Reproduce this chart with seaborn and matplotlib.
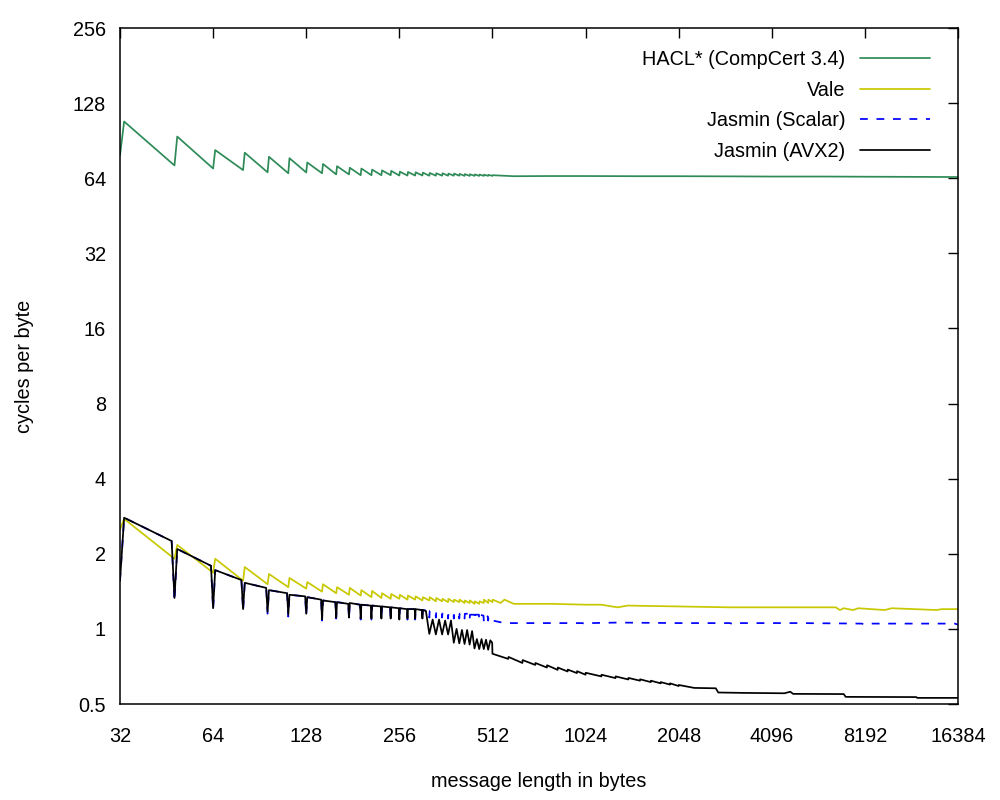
import seaborn as sns
import pandas as pd
import matplotlib.pyplot as plt
import matplotlib.ticker as mticker

# message lengths (bytes) and cycles per byte
hv_len = [32, 33, 48, 49, 64, 65, 80, 81, 96, 97, 112, 113, 128, 129, 144, 145,
          160, 161, 176, 177, 192, 193, 208, 209, 224, 225, 240, 241, 256, 257,
          272, 273, 288, 289, 304, 305, 320, 321, 336, 337, 352, 353, 368, 369,
          384, 385, 400, 401, 416, 417, 432, 433, 448, 449, 464, 465, 480, 481,
          496, 497, 512, 513]

hacl_len = hv_len + [600, 768, 1024, 1536, 2048, 3072, 4096, 6144, 8192, 12288, 16384]
hacl_cpb = [79, 108, 72, 94, 70, 83, 69, 81, 67.6, 78, 67, 77, 67.5, 74, 67, 73,
            66.3, 71.5, 66.3, 70.5, 65.8, 70, 65.8, 69.3, 65.8, 68.8, 65.8, 68.5, 65.6, 68,
            65.6, 67.8, 65.6, 67.6, 65.6, 67.4, 65.5, 67.2, 65.5, 67, 65.5, 67, 65.5, 66.8,
            65.5, 66.8, 65.5, 66.6, 65.4, 66.5, 65.4, 66.4, 65.4, 66.3, 65.4, 66.2, 65.4, 66.1,
            65.4, 66, 65.4, 65.8,
            65.2, 65.3, 65.3, 65.2, 65.2, 65.1, 65.0, 65.0, 64.9, 64.8, 64.7]

vale_len = hv_len + [544, 560, 600, 800, 1024, 1150, 1300, 1400, 2048, 3000, 4096,
                     6600, 6800, 7000, 7500, 7800, 9500, 10000, 14000, 14500, 16384]
vale_cpb = [2.5, 2.76, 1.91, 2.17, 1.68, 1.91, 1.56, 1.77, 1.51, 1.66, 1.47, 1.60,
            1.45, 1.54, 1.41, 1.51, 1.39, 1.47, 1.37, 1.46, 1.36, 1.43, 1.34, 1.42,
            1.33, 1.39, 1.32, 1.38, 1.32, 1.37, 1.31, 1.36, 1.31, 1.35, 1.30, 1.34,
            1.30, 1.34, 1.29, 1.33, 1.29, 1.32, 1.28, 1.32, 1.28, 1.31, 1.28, 1.31,
            1.27, 1.30, 1.27, 1.30, 1.26, 1.29, 1.26, 1.29, 1.27, 1.31, 1.27, 1.31,
            1.28, 1.31,
            1.27, 1.31, 1.26, 1.26, 1.25, 1.25, 1.22, 1.24, 1.23, 1.22, 1.22,
            1.22, 1.19, 1.21, 1.19, 1.21, 1.19, 1.21, 1.19, 1.2, 1.2]

jas_head_len = [32, 33, 47, 48, 49, 63, 64, 65, 79, 80, 81, 95, 96, 97, 111, 112, 113,
                127, 128, 129, 143, 144, 145, 159, 160, 161, 175, 176, 177, 191, 192, 193,
                207, 208, 209, 223, 224, 225, 239, 240, 241, 255, 256, 257, 271, 272, 273,
                287, 288, 289, 303, 304, 305]

scalar_len = jas_head_len + [319, 320, 321, 335, 336, 337, 351, 352, 353, 367, 368, 369,
                             383, 384, 385, 399, 400, 401, 415, 416, 417, 431, 432, 433,
                             447, 448, 449, 463, 464, 465, 479, 480, 481, 495, 496, 497,
                             511, 512, 513,
                             560, 700, 1000, 1024, 1060, 1300, 2048, 3000, 3100, 3200,
                             5000, 8000, 8200, 8500, 16000, 16384]
scalar_cpb = [1.56, 2.79, 2.25, 1.29, 2.09, 1.79, 1.19, 1.72, 1.57, 1.18, 1.53, 1.46, 1.15, 1.43,
              1.39, 1.12, 1.37, 1.35, 1.13, 1.34, 1.31, 1.08, 1.30, 1.28, 1.10, 1.28,
              1.26, 1.10, 1.27, 1.25, 1.09, 1.25, 1.24, 1.09, 1.24, 1.23, 1.09, 1.23,
              1.22, 1.09, 1.22, 1.21, 1.08, 1.21, 1.20, 1.09, 1.20, 1.20, 1.09, 1.20,
              1.19, 1.09, 1.19,
              1.18, 1.11, 1.18, 1.17, 1.11, 1.17, 1.17, 1.11, 1.17, 1.16, 1.10, 1.16,
              1.16, 1.10, 1.16, 1.15, 1.10, 1.15, 1.15, 1.10, 1.15, 1.15, 1.09, 1.14,
              1.14, 1.09, 1.14, 1.14, 1.09, 1.14, 1.13, 1.08, 1.14, 1.12, 1.08, 1.11,
              1.09, 1.07, 1.08,
              1.055, 1.055, 1.055, 1.045, 1.055, 1.06, 1.055, 1.055, 1.04, 1.055,
              1.055, 1.05, 1.04, 1.05, 1.05, 1.04]

avx2_len = jas_head_len + [312, 320, 328, 336, 344, 352, 360, 368, 376,
                           384, 392, 400, 408, 416, 424, 432, 440,
                           448, 456, 464, 472, 480, 488, 496, 504, 511, 512,
                           576, 577, 640, 641, 704, 705, 768, 769, 832, 833, 896, 897,
                           960, 961, 1024, 1025, 1152, 1153, 1280, 1281, 1408, 1409,
                           1536, 1537, 1664, 1665, 1792, 1793, 1920, 1921, 2048, 2049,
                           2300, 2700, 2750, 3300, 4500, 4700, 4800, 7000, 7100,
                           12000, 12100, 16384]
avx2_cpb = [1.56, 2.79, 2.25, 1.33, 2.09, 1.79, 1.21, 1.72, 1.57, 1.20, 1.53, 1.46, 1.17, 1.43,
            1.39, 1.14, 1.37, 1.35, 1.15, 1.34, 1.31, 1.09, 1.30, 1.28, 1.11, 1.28,
            1.26, 1.11, 1.27, 1.25, 1.10, 1.25, 1.24, 1.10, 1.24, 1.23, 1.10, 1.23,
            1.22, 1.10, 1.22, 1.21, 1.09, 1.21, 1.20, 1.10, 1.20, 1.20, 1.10, 1.20,
            1.19, 1.10, 1.19,
            1.18, 0.955, 1.09, 0.95, 1.09, 0.95, 1.08, 0.95, 1.08,
            0.88, 1.0, 0.875, 0.99, 0.87, 0.99, 0.865, 0.98,
            0.835, 0.91, 0.83, 0.91, 0.83, 0.905, 0.825, 0.90, 0.88, 0.795,
            0.758, 0.772, 0.73, 0.75, 0.717, 0.73, 0.70, 0.715, 0.685, 0.70, 0.675, 0.687,
            0.665, 0.677, 0.655, 0.667, 0.645, 0.655, 0.635, 0.645, 0.627, 0.636,
            0.62, 0.628, 0.612, 0.62, 0.605, 0.612, 0.598, 0.605, 0.59, 0.596,
            0.58, 0.578, 0.556, 0.554, 0.552, 0.56, 0.549, 0.548, 0.534,
            0.533, 0.529, 0.529]

names = ["HACL* (CompCert 3.4)", "Vale", "Jasmin (Scalar)", "Jasmin (AVX2)"]
colors = ["#2e8b57", "#c8c800", "#0000ff", "#000000"]

x_ticks = [32, 64, 128, 256, 512, 1024, 2048, 4096, 8192, 16384]
x_labels = ["32", "64", "128", "256", "512", "1024", "2048", "4096", "8192", "16384"]
y_ticks = [0.5, 1, 2, 4, 8, 16, 32, 64, 128, 256]
y_labels = ["0.5", "1", "2", "4", "8", "16", "32", "64", "128", "256"]

frames = []
for name, xs, ys in zip(names, [hacl_len, vale_len, scalar_len, avx2_len],
                        [hacl_cpb, vale_cpb, scalar_cpb, avx2_cpb]):
    frames.append(pd.DataFrame({"length": xs, "cpb": ys, "impl": name}))
df = pd.concat(frames, ignore_index=True)

sns.set_style("white")
plt.rcParams['font.family'] = ['Liberation Sans', 'DejaVu Sans']
plt.rcParams['text.color'] = 'black'
plt.rcParams['axes.labelcolor'] = 'black'
FS = 14.3

fig = plt.figure(figsize=(10, 8), dpi=100)
ax = fig.add_axes([0.12, 0.12, 0.838, 0.845])

sns.lineplot(data=df, x="length", y="cpb", hue="impl", style="impl",
             hue_order=names, style_order=names,
             palette=dict(zip(names, colors)),
             dashes={names[0]: "", names[1]: "", names[2]: (4.5, 5), names[3]: ""},
             estimator=None, sort=False, linewidth=1.25, ax=ax)

ax.set_xscale("log", base=2)
ax.set_yscale("log", base=2)
ax.set_xlim(32, 16384)
ax.set_ylim(0.5, 256)
ax.xaxis.set_major_locator(mticker.FixedLocator(x_ticks))
ax.yaxis.set_major_locator(mticker.FixedLocator(y_ticks))
ax.xaxis.set_minor_locator(mticker.NullLocator())
ax.yaxis.set_minor_locator(mticker.NullLocator())
ax.set_xticklabels(x_labels, fontsize=FS)
ax.set_yticklabels(y_labels, fontsize=FS)
ax.tick_params(direction="in", length=7, width=1, top=True, right=True,
               colors="black", labelcolor="black")
ax.tick_params(axis="x", pad=16.5)
ax.tick_params(axis="y", pad=10)
for s in ax.spines.values():
    s.set_color("black")
    s.set_linewidth(1.1)

ax.set_xlabel("message length in bytes", fontsize=FS)
ax.set_ylabel("cycles per byte", fontsize=FS)
ax.xaxis.set_label_coords(0.5, -0.1)
ax.yaxis.set_label_coords(-0.103, 0.5)

handles, labels = ax.get_legend_handles_labels()
ax.legend(handles, labels, loc="upper right", bbox_to_anchor=(0.93, 0.937),
          bbox_transform=fig.transFigure, frameon=False, markerfirst=False,
          handlelength=3.5, handletextpad=0.75, borderpad=0, borderaxespad=0,
          labelspacing=0.58, fontsize=FS)

fig.savefig("out.png", dpi=100)
